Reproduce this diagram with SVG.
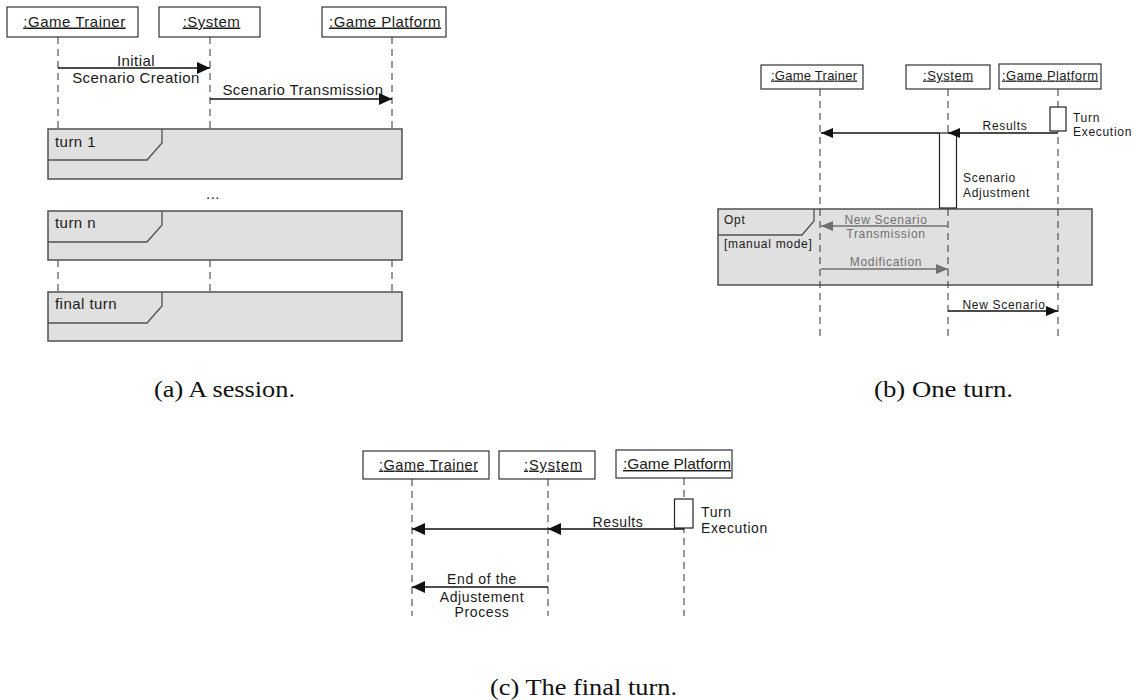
<svg xmlns="http://www.w3.org/2000/svg" width="1138" height="700" viewBox="0 0 1138 700">
  <style>
    .box { fill: #fff; stroke: #333; stroke-width: 1.2; }
    .act { fill: #fff; stroke: #222; stroke-width: 1.2; }
    .life { stroke: #333; stroke-width: 1; stroke-dasharray: 7 5; fill: none; }
    .frame { fill: #e0e0e0; stroke: #505050; stroke-width: 1.5; }
    .tab { fill: none; stroke: #505050; stroke-width: 1.3; }
    .msg { stroke: #111; stroke-width: 1.3; fill: none; }
    .msg-g { stroke: #707070; stroke-width: 1.3; fill: none; }
    text { font-family: "Liberation Sans", Arial, sans-serif; fill: #1a1a1a; }
    .lbl-a { font-size: 15px; letter-spacing: 0.5px; }
    .lbl-b { font-size: 13px; }
    .lbl-c { font-size: 14.5px; }
    .name { text-decoration: underline; text-anchor: middle; }
    .t-a { font-size: 15px; letter-spacing: 0.45px; }
    .t-b { font-size: 12px; letter-spacing: 0.7px; }
    .t-c { font-size: 14px; letter-spacing: 0.6px; }
    .mid { text-anchor: middle; }
    .grey { fill: #707070; }
    .cap { font-family: "Liberation Serif", "Times New Roman", serif; font-size: 23.5px; fill: #111; }
  </style>
  <defs>
    <marker id="arrowL" markerUnits="userSpaceOnUse" markerWidth="14" markerHeight="13" refX="13" refY="6" orient="auto">
      <path d="M0,0 L13,6 L0,12 z" fill="#111"/>
    </marker>
    <marker id="arrowS" markerUnits="userSpaceOnUse" markerWidth="13" markerHeight="11" refX="12" refY="5" orient="auto">
      <path d="M0,0 L12,5 L0,10 z" fill="#111"/>
    </marker>
    <marker id="arrowG" markerUnits="userSpaceOnUse" markerWidth="13" markerHeight="11" refX="12" refY="5" orient="auto">
      <path d="M0,0 L12,5 L0,10 z" fill="#707070"/>
    </marker>
  </defs>

  <!-- (a) session -->
  <g id="a-trainer">
    <rect class="box" x="7" y="7" width="131" height="30"/>
    <text class="lbl-a name" x="74.5" y="26.5">:Game Trainer</text>
    <path class="life" d="M58,37 V129 M58,260 V292"/>
  </g>
  <g id="a-system">
    <rect class="box" x="159" y="7" width="101" height="30"/>
    <text class="lbl-a name" x="211.5" y="26.5">:System</text>
    <path class="life" d="M210,37 V129 M210,260 V292"/>
  </g>
  <g id="a-platform">
    <rect class="box" x="322" y="7" width="124" height="30"/>
    <text class="lbl-a name" x="385" y="26.5">:Game Platform</text>
    <path class="life" d="M392,37 V129 M392,260 V292"/>
  </g>
  <g id="a-turn1">
    <rect class="frame" x="48" y="129" width="354" height="50"/>
    <path class="tab" d="M48,160 H147 L162,143 V129"/>
    <text class="t-a" x="55" y="147">turn 1</text>
  </g>
  <g id="a-ellipsis">
    <text class="t-a mid" x="213" y="199">...</text>
  </g>
  <g id="a-turnn">
    <rect class="frame" x="48" y="211" width="354" height="49"/>
    <path class="tab" d="M48,242 H147 L162,225 V211"/>
    <text class="t-a" x="55" y="228">turn n</text>
  </g>
  <g id="a-final">
    <rect class="frame" x="48" y="292" width="354" height="49"/>
    <path class="tab" d="M48,323 H147 L162,306 V292"/>
    <text class="t-a" x="55" y="309">final turn</text>
  </g>
  <g id="a-connectors">
    <line class="msg" x1="58" y1="68" x2="210" y2="68" marker-end="url(#arrowL)"/>
    <text class="t-a mid" x="136" y="66">Initial</text>
    <text class="t-a mid" x="136" y="83">Scenario Creation</text>
    <line class="msg" x1="210" y1="99" x2="392" y2="99" marker-end="url(#arrowL)"/>
    <text class="t-a mid" x="303" y="95">Scenario Transmission</text>
  </g>
  <text class="cap" x="154" y="397" textLength="141" lengthAdjust="spacingAndGlyphs">(a) A session.</text>

  <!-- (b) one turn -->
  <g id="b-opt">
    <rect class="frame" x="718" y="209" width="374" height="76"/>
    <path class="tab" d="M718,235 H802 L814,221 V209"/>
    <text class="t-b" x="724" y="224">Opt</text>
    <text class="t-b" x="724" y="248">[manual mode]</text>
  </g>
  <g id="b-trainer">
    <rect class="box" x="761" y="65" width="102" height="24"/>
    <text class="lbl-b name" x="814" y="79.5" textLength="86" lengthAdjust="spacing">:Game Trainer</text>
    <path class="life" d="M820,89 V336"/>
  </g>
  <g id="b-system">
    <rect class="box" x="906" y="65" width="84" height="24"/>
    <text class="lbl-b name" x="948" y="79.5" textLength="50" lengthAdjust="spacing">:System</text>
    <path class="life" d="M948,89 V336"/>
    <rect class="act" x="939.5" y="133" width="17" height="75"/>
    <text class="t-b" x="963" y="182">Scenario</text>
    <text class="t-b" x="963" y="197">Adjustment</text>
  </g>
  <g id="b-platform">
    <rect class="box" x="999" y="64" width="102" height="25"/>
    <text class="lbl-b name" x="1050" y="79.5" textLength="96" lengthAdjust="spacing">:Game Platform</text>
    <path class="life" d="M1058,89 V336"/>
    <rect class="act" x="1050" y="107" width="16" height="24"/>
    <text class="t-b" x="1073" y="122">Turn</text>
    <text class="t-b" x="1073" y="136">Execution</text>
  </g>
  <g id="b-connectors">
    <line class="msg" x1="1058" y1="133" x2="948" y2="133" marker-end="url(#arrowS)"/>
    <text class="t-b mid" x="1005" y="130">Results</text>
    <line class="msg" x1="939" y1="133" x2="821" y2="133" marker-end="url(#arrowS)"/>
    <line class="msg-g" x1="948" y1="226" x2="821" y2="226" marker-end="url(#arrowG)"/>
    <text class="t-b mid grey" x="886" y="224">New Scenario</text>
    <text class="t-b mid grey" x="886" y="238">Transmission</text>
    <line class="msg-g" x1="821" y1="269" x2="948" y2="269" marker-end="url(#arrowG)"/>
    <text class="t-b mid grey" x="886" y="266">Modification</text>
    <line class="msg" x1="948" y1="311" x2="1058" y2="311" marker-end="url(#arrowS)"/>
    <text class="t-b mid" x="1004" y="309">New Scenario</text>
  </g>
  <text class="cap" x="874" y="397" textLength="139" lengthAdjust="spacingAndGlyphs">(b) One turn.</text>

  <!-- (c) final turn -->
  <g id="c-trainer">
    <rect class="box" x="363" y="451" width="126" height="28"/>
    <text class="lbl-c name" x="428.5" y="469.5" textLength="99" lengthAdjust="spacing">:Game Trainer</text>
    <path class="life" d="M412,479 V616"/>
  </g>
  <g id="c-system">
    <rect class="box" x="499" y="451" width="96" height="28"/>
    <text class="lbl-c name" x="553" y="469.5" textLength="58" lengthAdjust="spacing">:System</text>
    <path class="life" d="M548,479 V616"/>
  </g>
  <g id="c-platform">
    <rect class="box" x="616" y="450" width="116" height="28"/>
    <text class="lbl-c name" x="677" y="469" textLength="108" lengthAdjust="spacingAndGlyphs">:Game Platform</text>
    <path class="life" d="M684,478 V616"/>
    <rect class="act" x="674.5" y="499" width="18.5" height="29"/>
    <text class="t-c" x="701" y="517">Turn</text>
    <text class="t-c" x="701" y="533">Execution</text>
  </g>
  <g id="c-connectors">
    <line class="msg" x1="684" y1="529" x2="548" y2="529" marker-end="url(#arrowL)"/>
    <text class="t-c mid" x="618" y="527">Results</text>
    <line class="msg" x1="548" y1="529" x2="412" y2="529" marker-end="url(#arrowL)"/>
    <line class="msg" x1="548" y1="587" x2="412" y2="587" marker-end="url(#arrowL)"/>
    <text class="t-c mid" x="482" y="584">End of the</text>
    <text class="t-c mid" x="482" y="602">Adjustement</text>
    <text class="t-c mid" x="482" y="617">Process</text>
  </g>
  <text class="cap" x="490" y="695" textLength="187" lengthAdjust="spacingAndGlyphs">(c) The final turn.</text>
</svg>
